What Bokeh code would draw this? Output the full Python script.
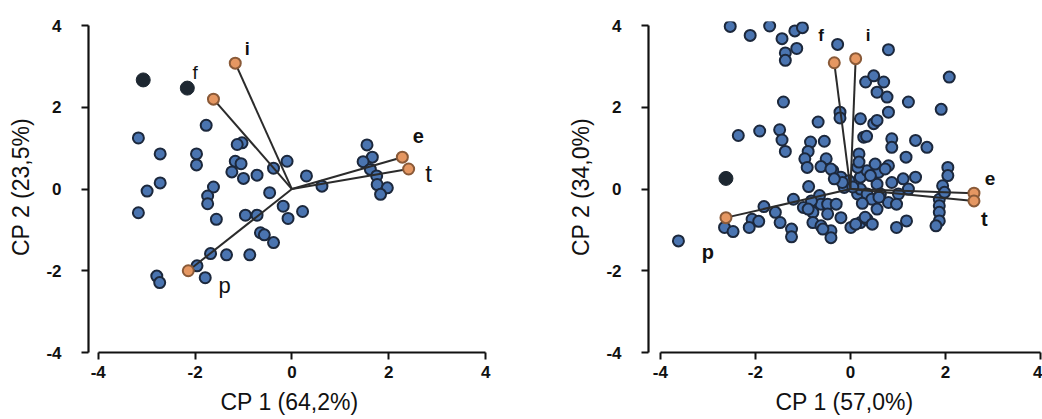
from bokeh.plotting import figure
from bokeh.layouts import row
from bokeh.models import Range1d, FixedTicker
from bokeh.core.properties import value
from bokeh.embed import file_html
from bokeh.resources import INLINE

FONT = "Liberation Sans"
TICKS = [-4, -2, 0, 2, 4]
TICK_TEXT = ["-4", "-2", "0", "2", "4"]

# ---- left biplot -------------------------------------------------------
left_pc1 = [-3.17, -1.77, -2.72, -1.97, -1.97, -1.03, -1.13, -1.17, -1.05,
            -1.24, -1.00, -0.72, -0.38, -0.10, 0.30, -2.72, -2.99, -3.17,
            -1.62, -1.74, -1.74, -0.46, -1.56, -0.96, -0.72, -0.18, -0.08,
            0.22, -0.65, -0.57, -0.38, -1.68, -1.35, -0.87, -1.96, -1.79,
            -2.79, -2.73, 0.62, 1.55, 1.66, 1.47, 1.62, 1.75, 1.76, 1.97, 1.83]
left_pc2 = [1.25, 1.56, 0.86, 0.86, 0.59, 1.13, 1.09, 0.68, 0.62,
            0.42, 0.26, 0.34, 0.51, 0.68, 0.32, 0.15, -0.05, -0.58,
            0.05, -0.17, -0.36, -0.09, -0.74, -0.64, -0.64, -0.42, -0.72,
            -0.55, -1.07, -1.12, -1.31, -1.58, -1.61, -1.61, -1.88, -2.17,
            -2.13, -2.29, 0.07, 1.08, 0.78, 0.67, 0.48, 0.32, 0.11, 0.03, -0.13]
left_extra_pc1 = [-3.07, -2.16]
left_extra_pc2 = [2.67, 2.47]
left_vars = ["i", "f", "e", "t", "p"]
left_load1 = [-1.17, -1.62, 2.28, 2.41, -2.14]
left_load2 = [3.08, 2.20, 0.78, 0.49, -2.00]
left_xlabel = "CP 1 (64,2%)"
left_ylabel = "CP 2 (23,5%)"

# ---- right biplot ------------------------------------------------------
right_pc1 = [-2.53, -2.11, -1.70, -1.44, -1.17, -1.01, -1.37, -1.13, -1.37, -0.27,
             -1.41, -0.68, -0.22, -0.22, -2.36, -1.91, -1.49, -1.44, -1.37, -0.84,
             -0.55, -0.89, -0.96, -0.91, -0.51, -0.62, -0.37, -0.20, -0.03, 0.21,
             0.18, 0.28, 0.21, 0.32, -0.88, -0.13, 0.15, -1.20, -1.82, -2.07,
             -1.93, -2.13, -2.65, -2.47, -3.62, -1.58, -1.48, -1.24, -1.24, -0.99,
             -0.79, -0.65, -0.62, -0.48, -0.30, -0.48, -0.79, -0.62, -0.41, -0.41,
             -0.20, 0.01, 0.21, -0.82, 0.80, 2.08, 0.49, 0.70, 0.56, 0.77,
             1.22, 1.91, 0.80, 0.49, 0.56, 0.34, 0.87, 0.87, 1.37, 1.61,
             1.17, 0.80, 0.59, 0.35, 0.15, 2.05, 2.05, 1.94, 1.11, 1.37,
             0.87, 0.56, 0.21, -0.17, -0.41, -0.34, 0.63, 1.01, 1.22, 0.35,
             0.42, 0.80, 0.97, 0.56, 0.35, 0.11, 0.97, 1.18, 1.87, 1.87,
             1.87, 1.87, 1.80, 1.98, -0.89, -0.58, 0.31, 0.46, 0.18, 0.52,
             0.73, 0.05, 0.45, 0.25, 0.60]
right_pc2 = [3.98, 3.76, 3.99, 3.68, 3.87, 3.95, 3.33, 3.44, 3.15, 3.54,
             2.13, 1.64, 1.88, 1.74, 1.31, 1.42, 1.45, 1.20, 0.92, 1.15,
             1.17, 0.92, 0.74, 0.53, 0.74, 0.55, 0.45, 0.29, 0.20, 0.29,
             0.86, 1.27, 1.72, 2.62, 0.06, 0.04, -0.12, -0.25, -0.43, -0.74,
             -0.79, -0.94, -0.94, -1.04, -1.27, -0.57, -0.82, -0.98, -1.17, -0.45,
             -0.57, -0.16, -0.37, -0.37, -0.37, -0.61, -0.82, -0.90, -1.02, -1.19,
             -0.70, -0.94, -0.82, -0.29, 3.41, 2.74, 2.77, 2.62, 2.37, 2.25,
             2.13, 1.95, 1.88, 1.60, 1.68, 1.29, 1.23, 1.02, 1.19, 1.02,
             0.78, 0.57, 0.41, 0.45, 0.53, 0.53, 0.33, 0.08, 0.25, 0.29,
             0.16, 0.12, 0.00, 0.16, 0.49, 0.25, -0.12, -0.12, 0.00, -0.12,
             0.33, -0.33, -0.37, -0.49, -0.74, -0.86, -0.94, -0.78, -0.25, -0.41,
             -0.57, -0.78, -0.90, -0.08, -0.49, -0.98, -0.69, -0.86, 0.66, 0.61,
             0.49, 0.05, -0.25, -0.35, -0.20]
right_extra_pc1 = [-2.62]
right_extra_pc2 = [0.26]
right_vars = ["f", "i", "e", "t", "p"]
right_load1 = [-0.34, 0.11, 2.60, 2.60, -2.62]
right_load2 = [3.09, 3.19, -0.10, -0.29, -0.70]
right_xlabel = "CP 1 (57,0%)"
right_ylabel = "CP 2 (34,0%)"

# variable-name annotations: anchor (x, y), font size, weight
left_tags = [(-0.92, 3.42, "18px", "bold"), (-2.00, 2.84, "19px", "normal"),
             (2.61, 1.30, "20px", "bold"), (2.82, 0.39, "24px", "normal"),
             (-1.39, -2.37, "22px", "normal")]
right_tags = [(-0.62, 3.75, "17px", "bold"), (0.37, 3.75, "17px", "bold"),
              (2.94, 0.27, "19px", "bold"), (2.82, -0.74, "20px", "bold"),
              (-3.00, -1.55, "20px", "bold")]

BLUE, BLUE_EDGE = "#4a74b0", "#1c283c"
ORANGE, ORANGE_EDGE = "#e59762", "#8a5a38"
DARK = "#1d2731"
VEC = "#2b2b2b"


def biplot(pc1, pc2, ex1, ex2, names, ld1, ld2, tags, xlab, ylab,
           x_lo, x_hi, fw, border_left, border_right):
    p = figure(frame_width=fw, frame_height=331,
               x_range=Range1d(x_lo, x_hi), y_range=Range1d(-4.0, 4.1),
               min_border_left=border_left, min_border_right=border_right,
               min_border_top=21, min_border_bottom=67,
               output_backend="svg", toolbar_location=None)
    p.outline_line_color = None
    p.grid.visible = False
    p.background_fill_color = "white"
    for ax in (p.xaxis[0], p.yaxis[0]):
        ax.bounds = (-4, 4)
        ax.ticker = FixedTicker(ticks=TICKS)
        ax.major_label_overrides = dict(zip(TICKS, TICK_TEXT))
        ax.minor_tick_line_color = None
        ax.major_tick_in = 0
        ax.major_tick_out = 7
        ax.axis_line_width = 2.2
        ax.major_tick_line_width = 2
        ax.axis_line_color = "#111111"
        ax.major_tick_line_color = "#111111"
        ax.major_label_text_font = FONT
        ax.major_label_text_font_style = "bold"
        ax.major_label_text_font_size = "17px"
        ax.major_label_text_color = "#111111"
        ax.axis_label_text_font = FONT
        ax.axis_label_text_font_style = "normal"
        ax.axis_label_text_font_size = "23px"
        ax.axis_label_text_color = "#111111"
    p.xaxis.axis_label = xlab
    p.yaxis.axis_label = ylab
    p.xaxis.major_label_standoff = 6
    p.xaxis.axis_label_standoff = 8
    p.yaxis.major_label_standoff = 20
    p.yaxis.axis_label_standoff = 9
    p.yaxis.major_label_orientation = "horizontal"

    p.scatter(pc1, pc2, size=11, fill_color=BLUE, line_color=BLUE_EDGE,
              line_width=2)
    p.scatter(ex1, ex2, size=14, fill_color=DARK, line_color=DARK)
    p.segment([0] * len(ld1), [0] * len(ld2), ld1, ld2,
              line_color=VEC, line_width=2)
    p.scatter(ld1, ld2, size=11, fill_color=ORANGE, line_color=ORANGE_EDGE,
              line_width=2)
    for name, (tx, ty, fs, st) in zip(names, tags):
        p.text([tx], [ty], text=[name], text_font=value(FONT),
               text_font_size=fs, text_font_style=st, text_color="#111111",
               text_align="center", text_baseline="middle")
    return p


left = biplot(left_pc1, left_pc2, left_extra_pc1, left_extra_pc2, left_vars,
              left_load1, left_load2, left_tags, left_xlabel, left_ylabel,
              -4.2, 4.1, 402, 88, 40)
right = biplot(right_pc1, right_pc2, right_extra_pc1, right_extra_pc2,
               right_vars, right_load1, right_load2, right_tags,
               right_xlabel, right_ylabel, -4.25, 4.0, 392, 118, 2)

page = row(left, right, spacing=0)
open("out.html", "w").write(file_html(page, INLINE))
